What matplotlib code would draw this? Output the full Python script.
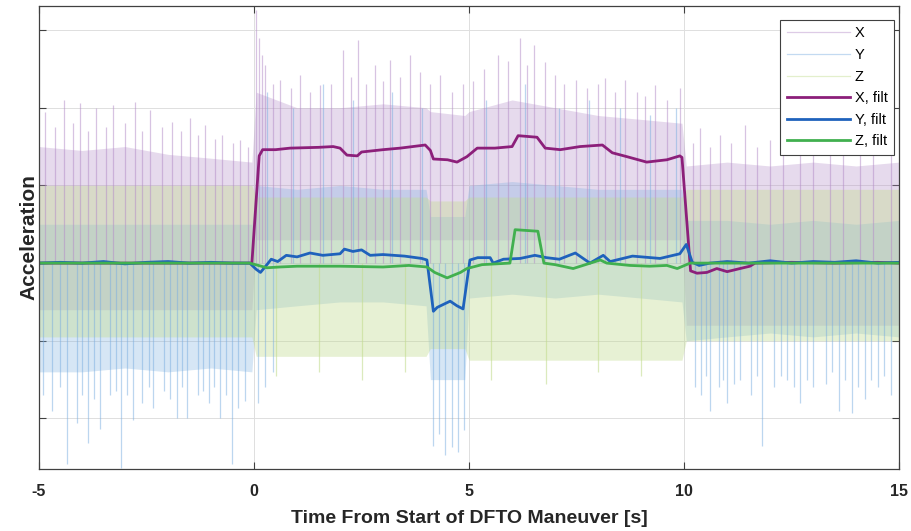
#!/usr/bin/env python3

import matplotlib
matplotlib.use("Agg")
import matplotlib.pyplot as plt
from matplotlib.lines import Line2D


# filtered signals (time [s], acceleration in grid units)
X_FILT_T = [-5, -0.05, 0.12, 0.2, 0.5, 0.84, 1.5, 1.84, 2.0, 2.16, 2.4, 2.5, 3.0, 3.4,
            3.98, 4.1, 4.17, 4.5, 4.72, 4.95, 5.19, 5.6, 6.0, 6.14, 6.58, 6.77, 7.12,
            7.58, 8.1, 8.33, 8.67, 9.13, 9.6, 9.9, 9.95, 10.15, 10.3, 10.53, 10.76,
            11.0, 11.3, 11.53, 11.65, 12.5, 13.5, 14.5, 15]
X_FILT_V = [0, 0, 1.38, 1.46, 1.46, 1.48, 1.49, 1.5, 1.48, 1.39, 1.38, 1.43, 1.46, 1.48,
            1.52, 1.45, 1.34, 1.33, 1.3, 1.37, 1.48, 1.48, 1.5, 1.64, 1.62, 1.48, 1.46,
            1.5, 1.52, 1.42, 1.37, 1.3, 1.33, 1.38, 1.36, -0.1, -0.13, -0.12, -0.07,
            -0.11, -0.07, -0.04, 0.0, 0.01, 0.0, 0.01, 0.0]

Y_FILT_T = [-5, -4.5, -4.0, -3.5, -3.0, -2.5, -2.0, -1.5, -1.0, -0.5, -0.1, 0.05, 0.15,
            0.3, 0.4, 0.55, 0.75, 1.0, 1.3, 1.6, 2.0, 2.1, 2.3, 2.5, 2.7, 3.0, 3.5, 3.9,
            4.02, 4.17, 4.26, 4.56, 4.72, 4.86, 5.02, 5.2, 5.49, 5.56, 5.8, 6.19, 6.53,
            6.8, 7.1, 7.47, 7.81, 8.12, 8.28, 8.8, 9.44, 9.9, 10.05, 10.19, 10.35, 10.6,
            11.0, 11.5, 12.0, 12.5, 13.0, 13.5, 14.0, 14.5, 15]
Y_FILT_V = [0, 0.01, 0, 0.02, -0.01, 0.01, 0.02, 0, 0.01, 0, 0, -0.08, -0.12,
            -0.02, 0.05, 0.02, 0.1, 0.08, 0.13, 0.1, 0.12, 0.18, 0.15, 0.17, 0.1, 0.11, 0.09, 0.06,
            0.04, -0.62, -0.57, -0.49, -0.55, -0.59, 0.04, 0.07, 0.07, 0.0, 0.05, 0.06, 0.1,
            0.07, 0.05, 0.13, 0.0, 0.1, 0.02, 0.09, 0.06, 0.12, 0.24, 0.01, -0.03, 0.0,
            0.02, 0.0, 0.03, 0.0, 0.02, 0.01, 0.03, 0.0, 0.01]

Z_FILT_T = [-5, -0.1, 0.1, 0.3, 0.6, 1.0, 2.0, 3.0, 3.6, 4.02, 4.2, 4.49, 4.8, 4.95,
            5.3, 5.95, 6.07, 6.6, 6.74, 7.0, 7.42, 8.05, 8.2, 8.74, 9.2, 9.6, 9.84,
            10.14, 10.5, 15]
Z_FILT_V = [0, 0, -0.03, -0.06, -0.05, -0.04, -0.04, -0.05, -0.03, -0.05, -0.12, -0.19,
            -0.12, -0.07, -0.02, 0.0, 0.43, 0.41, 0.0, -0.02, -0.07, 0.04, 0.0, -0.03,
            -0.04, -0.03, -0.07, 0.0, 0.0, 0.0]

# raw signal envelopes (dense core band)
ENV_T = [-5, -4, -3, -2, -1, -0.05, 0.05, 1, 2, 3, 4, 4.1, 4.9, 5, 6, 7, 8, 9, 9.95,
         10.05, 11, 12, 13, 14, 15]
X_RAW_HI = [1.5, 1.45, 1.5, 1.4, 1.35, 1.3, 2.2, 2.0, 2.0, 2.05, 2.0, 1.95, 1.9, 1.95,
            2.1, 2.0, 1.9, 1.85, 1.8, 1.25, 1.3, 1.25, 1.3, 1.25, 1.3]
X_RAW_LO = [-0.6, -0.6, -0.6, -0.6, -0.6, -0.6, 0.3, 0.3, 0.3, 0.3, 0.3, 0.3, 0.3, 0.3,
            0.3, 0.3, 0.3, 0.3, 0.3, -0.8, -0.8, -0.8, -0.8, -0.8, -0.8]
Y_RAW_HI = [0.5, 0.5, 0.5, 0.5, 0.5, 0.5, 1.0, 0.95, 1.0, 0.95, 0.95, 0.6, 0.6, 1.0,
            1.05, 1.0, 0.95, 0.95, 0.95, 0.55, 0.55, 0.5, 0.55, 0.5, 0.55]
Y_RAW_LO = [-1.4, -1.4, -1.35, -1.4, -1.35, -1.4, -0.6, -0.55, -0.5, -0.5, -0.55, -1.5,
            -1.5, -0.45, -0.4, -0.45, -0.4, -0.45, -0.5, -1.0, -0.95, -0.9, -0.95, -0.9, -0.95]
Z_RAW_HI = [1.0, 1.0, 1.0, 1.0, 1.0, 1.0, 0.85, 0.85, 0.85, 0.85, 0.85, 0.8, 0.8, 0.85,
            0.85, 0.85, 0.85, 0.85, 0.85, 0.95, 0.95, 0.95, 0.95, 0.95, 0.95]
Z_RAW_LO = [-0.95, -0.95, -0.95, -0.95, -0.95, -0.95, -1.2, -1.2, -1.2, -1.2, -1.2, -1.1,
            -1.1, -1.25, -1.25, -1.25, -1.25, -1.25, -1.25, -1.0, -1.0, -1.0, -1.0, -1.0, -1.0]

# raw signal extreme spikes (time, peak)
X_SPIKE_T = [-4.86, -4.62, -4.42, -4.2, -4.05, -3.85, -3.67, -3.45, -3.28, -3.0, -2.77,
             -2.6, -2.42, -2.15, -1.91, -1.7, -1.49, -1.3, -1.14, -0.9, -0.74, -0.5,
             -0.33, -0.15,
             0.05, 0.12, 0.19, 0.26, 0.45, 0.6, 0.85, 1.07, 1.3, 1.53, 1.8, 2.07, 2.25,
             2.42, 2.6, 2.81, 3.0, 3.16, 3.4, 3.63, 3.86, 4.1, 4.33, 4.6, 4.85, 5.1,
             5.35, 5.67, 5.9, 6.19, 6.35, 6.51, 6.77, 7.0, 7.2, 7.49, 7.75, 8.0, 8.16,
             8.4, 8.63, 8.9, 9.1, 9.33, 9.6, 9.9,
             10.2, 10.37, 10.6, 10.84, 11.1, 11.42, 11.7, 12.0, 12.3, 12.7, 13.0, 13.4,
             13.7, 14.1, 14.4, 14.8]
X_SPIKE_V = [1.95, 1.75, 2.1, 1.8, 2.06, 1.7, 2.0, 1.75, 2.04, 1.8, 2.07,
             1.7, 1.97, 1.75, 1.82, 1.7, 1.87, 1.65, 1.78, 1.6, 1.65, 1.55,
             1.58, 1.5,
             3.26, 2.9, 2.68, 2.55, 2.3, 2.36, 2.25, 2.42, 2.2, 2.29, 2.3, 2.74, 2.4,
             2.87, 2.3, 2.55, 2.35, 2.62, 2.4, 2.68, 2.46, 2.3, 2.42, 2.2, 2.3, 2.35,
             2.5, 2.68, 2.6, 2.9, 2.55, 2.81, 2.59, 2.42, 2.3, 2.36, 2.25, 2.3, 2.38,
             2.2, 2.36, 2.2, 2.15, 2.29, 2.1, 2.26,
             1.55, 1.74, 1.5, 1.65, 1.55, 1.78, 1.5, 1.58, 1.6, 1.71, 1.5, 1.61,
             1.55, 1.69, 1.5, 1.58]

Y_SPIKE_T = [-4.9, -4.7, -4.5, -4.35, -4.12, -4.0, -3.86, -3.72, -3.58, -3.35, -3.2,
             -3.1, -2.95, -2.81, -2.6, -2.45, -2.35, -2.1, -1.95, -1.8, -1.68, -1.56,
             -1.3, -1.18, -1.05, -0.92, -0.79, -0.65, -0.51, -0.37, -0.2,
             0.1, 0.25, 0.45, 0.3, 0.9, 1.6, 2.3, 3.2, 3.9,
             4.16, 4.3, 4.44, 4.6, 4.74, 4.88,
             5.4, 6.3, 7.1, 7.8, 8.5, 9.2, 9.8, 10.25,
             10.4, 10.5, 10.6, 10.8, 10.9, 11.0, 11.15, 11.3, 11.55, 11.7, 11.8, 12.1,
             12.25, 12.4, 12.55, 12.7, 12.85, 13.0, 13.3, 13.45, 13.6, 13.75, 13.9,
             14.05, 14.2, 14.35, 14.5, 14.65, 14.8]
Y_SPIKE_V = [-1.7, -1.9, -1.6, -2.58, -2.06, -1.7, -2.32, -1.75, -2.13, -1.7, -1.65,
             -2.64, -1.7, -2.02, -1.8, -1.6, -1.86, -1.65, -1.75, -2.0, -1.6, -2.0,
             -1.7, -1.65, -1.8, -1.6, -2.0, -1.7, -2.58, -1.86, -1.77,
             -1.8, -1.6, -1.4, 2.2, 2.0, 2.3, 2.1, 2.2, 2.0,
             -2.35, -2.2, -2.47, -2.37, -2.43, -2.15,
             2.1, 2.3, 2.0, 2.1, 2.0, 1.9, 2.0, -1.6,
             -1.7, -1.45, -1.9, -1.6, -1.5, -1.8, -1.55, -1.5, -1.7, -1.45, -2.35, -1.6,
             -1.45, -1.5, -1.6, -1.8, -1.5, -1.6, -1.55, -1.4, -1.9, -1.5, -1.93,
             -1.6, -1.75, -1.5, -1.6, -1.45, -1.7]

Z_SPIKE_T = [0.5, 1.5, 2.5, 3.5, 5.5, 6.8, 8.0, 9.0]
Z_SPIKE_V = [-1.45, -1.4, -1.5, -1.4, -1.5, -1.55, -1.4, -1.45]

X_TICKS = [-5, 0, 5, 10, 15]
Y_TICKS = [-2, -1, 0, 1, 2, 3]

RAW_COLORS = {"X": "#b48cc8", "Y": "#7aaee0", "Z": "#c2dc8e"}
FILT_COLORS = {"X": "#8c1f7a", "Y": "#1f62bc", "Z": "#41b04f"}

plt.rcParams["font.family"] = ["Liberation Sans", "DejaVu Sans"]


def draw_raw(ax, name, hi, lo, spike_t, spike_v, alpha):
    color = RAW_COLORS[name]
    ax.fill_between(ENV_T, lo, hi, color=color, alpha=alpha, linewidth=0)
    ax.vlines(spike_t, 0, spike_v, color=color, alpha=alpha + 0.2, linewidth=0.9)


def main():
    fig = plt.figure(figsize=(9.11, 5.31), dpi=100)
    ax = fig.add_axes([0.0428, 0.1168, 0.9442, 0.872])

    draw_raw(ax, "X", X_RAW_HI, X_RAW_LO, X_SPIKE_T, X_SPIKE_V, 0.32)
    draw_raw(ax, "Y", Y_RAW_HI, Y_RAW_LO, Y_SPIKE_T, Y_SPIKE_V, 0.3)
    draw_raw(ax, "Z", Z_RAW_HI, Z_RAW_LO, Z_SPIKE_T, Z_SPIKE_V, 0.38)

    ax.plot(X_FILT_T, X_FILT_V, color=FILT_COLORS["X"], linewidth=2.0)
    ax.plot(Y_FILT_T, Y_FILT_V, color=FILT_COLORS["Y"], linewidth=2.0)
    ax.plot(Z_FILT_T, Z_FILT_V, color=FILT_COLORS["Z"], linewidth=2.0)

    ax.set_xlim(-5, 15)
    ax.set_ylim(-2.65, 3.31)
    ax.set_xticks(X_TICKS)
    ax.set_xticklabels([str(t) for t in X_TICKS], fontweight="bold", fontsize=11.5)
    ax.set_yticks(Y_TICKS)
    ax.set_yticklabels([])
    ax.tick_params(direction="in", length=5, width=0.8, colors="#404040",
                   top=True, right=True)
    ax.tick_params(axis="x", pad=11, labelcolor="#262626")
    ax.grid(True, color="#dedede", linewidth=0.7)
    ax.set_axisbelow(True)
    for spine in ax.spines.values():
        spine.set_color("#404040")
        spine.set_linewidth(0.9)

    ax.set_xlabel("Time From Start of DFTO Maneuver [s]", fontsize=14,
                  fontweight="bold", color="#262626", labelpad=8)
    ax.set_ylabel("Acceleration", fontsize=15, fontweight="bold",
                  color="#262626", labelpad=-3)

    handles = [
        Line2D([], [], color=RAW_COLORS["X"], alpha=0.45, linewidth=0.9),
        Line2D([], [], color=RAW_COLORS["Y"], alpha=0.45, linewidth=0.9),
        Line2D([], [], color=RAW_COLORS["Z"], alpha=0.45, linewidth=0.9),
        Line2D([], [], color=FILT_COLORS["X"], linewidth=2.0),
        Line2D([], [], color=FILT_COLORS["Y"], linewidth=2.0),
        Line2D([], [], color=FILT_COLORS["Z"], linewidth=2.0),
    ]
    labels = ["X", "Y", "Z", "X, filt", "Y, filt", "Z, filt"]
    leg = ax.legend(handles, labels, loc="upper right", bbox_to_anchor=(0.9942, 0.9698),
                    borderaxespad=0, fontsize=10.5, handlelength=4.3, handletextpad=0.35,
                    labelspacing=0.52, borderpad=0.45, fancybox=False,
                    framealpha=1.0, edgecolor="#404040")
    leg.get_frame().set_linewidth(0.8)

    fig.savefig("out.png", dpi=100)
    plt.close(fig)


if __name__ == "__main__":
    main()
